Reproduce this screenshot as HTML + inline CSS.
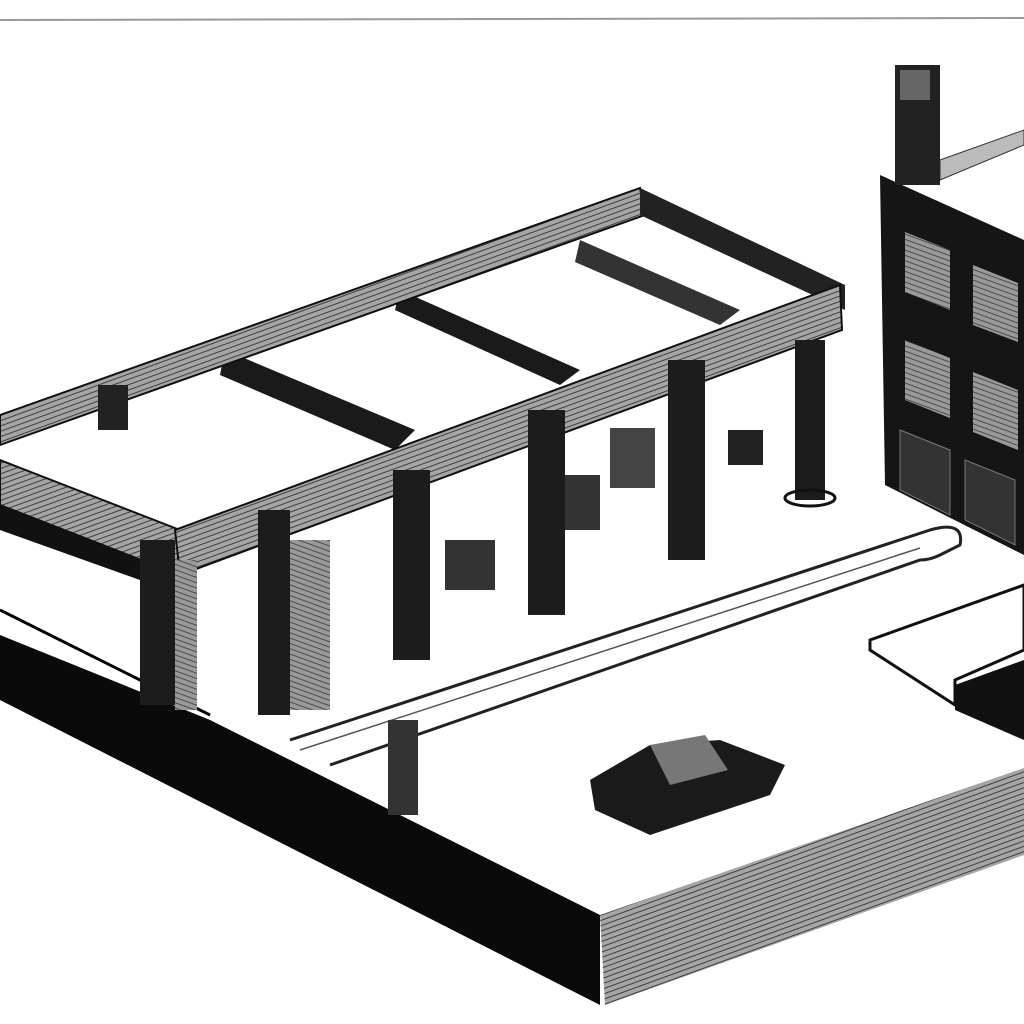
<!DOCTYPE html>
<html><head><meta charset="utf-8"><style>
html,body{margin:0;padding:0;background:#fff}
svg{display:block}
</style></head><body>
<svg width="1024" height="1024" viewBox="0 0 1024 1024" xmlns="http://www.w3.org/2000/svg">
<defs>
<pattern id="h" width="5" height="5" patternUnits="userSpaceOnUse" patternTransform="rotate(-20)">
<rect width="5" height="5" fill="#a5a5a5"/><line x1="0" y1="0" x2="5" y2="0" stroke="#333" stroke-width="1.8"/></pattern>
<pattern id="h2" width="5" height="5" patternUnits="userSpaceOnUse" patternTransform="rotate(20)">
<rect width="5" height="5" fill="#999"/><line x1="0" y1="0" x2="5" y2="0" stroke="#333" stroke-width="1.5"/></pattern>
</defs>
<rect width="1024" height="1024" fill="#fff"/>
<line x1="0" y1="20" x2="1024" y2="18" stroke="#999" stroke-width="2"/>
<polygon points="0,635 210,720 600,915 600,1005 0,700" fill="#0a0a0a"/>
<polygon points="600,915 1024,768 1024,855 605,1005" fill="url(#h)"/>
<polyline points="0,610 140,680 210,715" fill="none" stroke="#000" stroke-width="3"/>
<path d="M290,740 L930,530 Q965,520 960,545 L940,555 Q930,560 920,560 L330,765" fill="none" stroke="#222" stroke-width="3"/>
<path d="M300,750 L920,548" fill="none" stroke="#555" stroke-width="1.5"/>
<rect x="388" y="720" width="30" height="95" fill="#333"/>
<polygon points="870,640 1024,585 1024,650 955,680 955,705 870,650" fill="#fff" stroke="#111" stroke-width="3"/>
<polygon points="955,685 1024,660 1024,740 955,710" fill="#111"/>
<polygon points="880,175 1024,240 1024,555 885,485" fill="#151515"/>
<polygon points="940,160 1024,130 1024,145 940,180" fill="#bbb" stroke="#333"/>
<rect x="895" y="65" width="45" height="120" fill="#222"/>
<rect x="900" y="70" width="30" height="30" fill="#666"/>
<g fill="url(#h2)">
<polygon points="905,232 950,250 950,310 905,292"/>
<polygon points="973,265 1018,283 1018,342 973,325"/>
<polygon points="905,340 950,358 950,418 905,400"/>
<polygon points="973,372 1018,390 1018,450 973,432"/>
</g>
<polygon points="900,430 950,450 950,515 900,490" fill="#333" stroke="#777"/>
<polygon points="965,460 1015,480 1015,545 965,520" fill="#333" stroke="#777"/>
<polygon points="20,460 230,375 290,400 410,330 480,350 620,270 700,290 560,380 390,430 180,530" fill="#fff"/>
<polygon points="225,350 415,430 395,450 220,375" fill="#1a1a1a"/>
<polygon points="400,290 580,370 560,385 395,310" fill="#1a1a1a"/>
<polygon points="580,240 740,310 720,325 575,262" fill="#333"/>
<polygon points="0,415 640,188 645,215 0,445" fill="url(#h)" stroke="#111" stroke-width="2"/>
<polygon points="640,188 845,285 845,310 640,215" fill="#222"/>
<polygon points="0,460 180,530 180,575 0,505" fill="url(#h)" stroke="#111" stroke-width="2"/>
<polygon points="0,505 140,560 140,580 0,530" fill="#111"/>
<polygon points="175,530 840,285 842,330 180,575" fill="url(#h)" stroke="#111" stroke-width="2"/>
<g fill="#1c1c1c">
<rect x="140" y="540" width="35" height="165"/>
<rect x="258" y="510" width="32" height="205"/>
<rect x="393" y="470" width="37" height="190"/>
<rect x="528" y="410" width="37" height="205"/>
<rect x="668" y="360" width="37" height="200"/>
<rect x="795" y="340" width="30" height="160"/>
</g>
<rect x="290" y="540" width="40" height="170" fill="url(#h2)"/>
<rect x="175" y="560" width="22" height="150" fill="url(#h2)"/>
<ellipse cx="810" cy="498" rx="25" ry="8" fill="none" stroke="#111" stroke-width="3"/>
<rect x="610" y="428" width="45" height="60" fill="#444"/>
<rect x="565" y="475" width="35" height="55" fill="#333"/>
<rect x="445" y="540" width="50" height="50" fill="#333"/>
<rect x="728" y="430" width="35" height="35" fill="#222"/>
<rect x="98" y="385" width="30" height="45" fill="#222"/>
<polygon points="590,780 650,745 720,740 785,765 770,795 650,835 595,810" fill="#1a1a1a"/>
<polygon points="650,745 705,735 728,770 670,785" fill="#777"/>
</svg>
</body></html>
